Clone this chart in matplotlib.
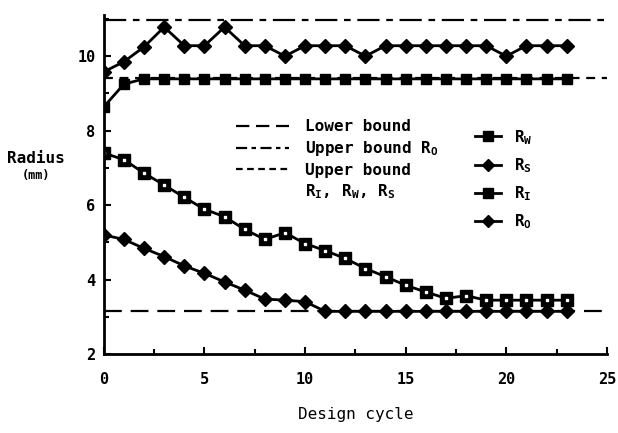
import matplotlib
matplotlib.use("Agg")
from matplotlib import pyplot as plt
from matplotlib.lines import Line2D
from matplotlib.ticker import MultipleLocator

plt.rcParams['font.family'] = 'DejaVu Sans Mono'
plt.rcParams['font.weight'] = 'bold'
plt.rcParams['mathtext.fontset'] = 'custom'
plt.rcParams['mathtext.rm'] = 'DejaVu Sans Mono:bold'
plt.rcParams['mathtext.it'] = 'DejaVu Sans Mono:bold'

# design cycles
cycles = list(range(24))

# radii (mm)
r_o = [9.58, 9.85, 10.25, 10.78, 10.28, 10.28, 10.78, 10.28, 10.28, 10.0, 10.28, 10.28,
       10.28, 10.0, 10.28, 10.28, 10.28, 10.28, 10.28, 10.28, 10.0, 10.28, 10.28, 10.28]
r_i = [8.64, 9.25, 9.39, 9.39, 9.39, 9.39, 9.39, 9.39, 9.39, 9.39, 9.39, 9.39,
       9.39, 9.39, 9.39, 9.39, 9.39, 9.39, 9.39, 9.39, 9.39, 9.39, 9.39, 9.39]
r_w = [7.40, 7.22, 6.86, 6.54, 6.21, 5.89, 5.69, 5.35, 5.08, 5.26, 4.97, 4.78,
       4.57, 4.30, 4.08, 3.85, 3.67, 3.50, 3.57, 3.45, 3.45, 3.45, 3.45, 3.45]
r_s = [5.20, 5.08, 4.84, 4.62, 4.37, 4.17, 3.94, 3.72, 3.48, 3.45, 3.41, 3.15,
       3.15, 3.15, 3.15, 3.15, 3.15, 3.15, 3.15, 3.15, 3.15, 3.15, 3.15, 3.15]

lower_bound = 3.17
upper_bound_o = 10.98
upper_bound_iws = 9.4

fig = plt.figure(figsize=(6.18, 4.33), dpi=100)
ax = fig.add_axes([0.168, 0.182, 0.814, 0.783])

ax.axhline(lower_bound, color='black', lw=1.6, dashes=(8, 4))
ax.axhline(upper_bound_o, color='black', lw=1.6, dashes=(10, 3, 3, 3))
ax.axhline(upper_bound_iws, color='black', lw=1.6, dashes=(4, 3))

ax.plot(cycles, r_o, color='black', lw=2, marker='D', ms=7, mfc='black', mec='black')
ax.plot(cycles, r_i, color='black', lw=2, marker='s', ms=7.5, mfc='black', mec='black')
ax.plot(cycles, r_w, color='black', lw=2, marker='s', ms=9, mfc='black', mec='black')
ax.plot(cycles, r_w, ls='none', marker='s', ms=1.6, mfc='white', mec='white')
ax.plot(cycles, r_s, color='black', lw=2, marker='D', ms=7, mfc='black', mec='black')

ax.set_xlim(0, 25)
ax.set_ylim(2, 11.1)
ax.xaxis.set_major_locator(MultipleLocator(5))
ax.xaxis.set_minor_locator(MultipleLocator(2.5))
ax.yaxis.set_major_locator(MultipleLocator(2))
ax.yaxis.set_minor_locator(MultipleLocator(1))
ax.tick_params(which='both', direction='in', width=1.5, labelsize=11)
ax.tick_params(which='major', length=5)
ax.tick_params(which='minor', length=3.5)
ax.tick_params(axis='x', pad=13)
ax.tick_params(axis='y', pad=6)
ax.spines['top'].set_visible(False)
ax.spines['right'].set_visible(False)
ax.spines['left'].set_linewidth(2)
ax.spines['bottom'].set_linewidth(2)

ax.set_xlabel('Design cycle', fontsize=11.5, labelpad=14)
fig.text(0.058, 0.635, 'Radius', fontsize=11.5, ha='center', va='center')
fig.text(0.058, 0.595, '(mm)', fontsize=8.5, ha='center', va='center')

blank = Line2D([], [], color='none')
line_handles = [
    Line2D([], [], color='black', lw=1.6, dashes=(6, 3)),
    Line2D([], [], color='black', lw=1.6, dashes=(5, 2, 2, 2)),
    Line2D([], [], color='black', lw=1.6, dashes=(3, 2)),
    blank,
]
line_labels = ['Lower bound', r'Upper bound R$_\mathrm{O}$', 'Upper bound',
               r'R$_\mathrm{I}$, R$_\mathrm{W}$, R$_\mathrm{S}$']
leg1 = ax.legend(line_handles, line_labels, loc='upper left', bbox_to_anchor=(0.235, 0.735),
                 frameon=False, fontsize=11.5, handlelength=3.3, handletextpad=1.0,
                 labelspacing=0.3)
ax.add_artist(leg1)

marker_handles = [
    Line2D([], [], color='black', lw=2, marker='s', ms=7.5, mfc='black'),
    Line2D([], [], color='black', lw=2, marker='D', ms=6.5, mfc='black'),
    Line2D([], [], color='black', lw=2, marker='s', ms=7.5, mfc='black'),
    Line2D([], [], color='black', lw=2, marker='D', ms=6.5, mfc='black'),
]
marker_labels = [r'R$_\mathrm{W}$', r'R$_\mathrm{S}$', r'R$_\mathrm{I}$', r'R$_\mathrm{O}$']
ax.legend(marker_handles, marker_labels, loc='upper left', bbox_to_anchor=(0.71, 0.71),
          frameon=False, fontsize=11.5, handlelength=1.6, handletextpad=0.8,
          labelspacing=0.6)

fig.savefig('out.png', dpi=100)
